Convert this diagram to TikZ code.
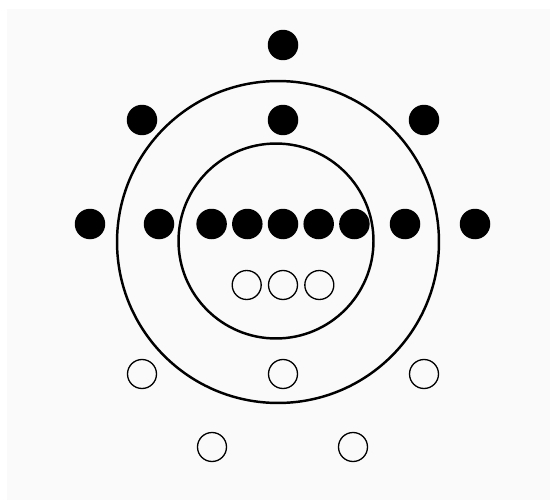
\documentclass[tikz,border=0pt]{standalone}
\usetikzlibrary{positioning}

\begin{document}
\begin{tikzpicture}[
    x=0.02cm, y=-0.02cm,
    member/.style={circle, fill=black, inner sep=0pt, minimum size=0.61cm},
    outsider/.style={circle, draw=black, line width=0.75pt, inner sep=0pt, minimum size=0.58cm},
    ring/.style={circle, draw=black, line width=1.4pt, inner sep=0pt}
]

% page
\useasboundingbox (0,0) rectangle (550,500);
\fill[white] (0,0) rectangle (550,500);
\fill[black!2] (7,9) rectangle (550,500);

% the two rings
\node[ring, minimum size=6.44cm] (outerring) at (278,242) {};
\node[ring, minimum size=3.9cm] (innerring) at (276,241) {};

% filled dots
\node[member] (top) at (283,45) {};
\node[member] (upleft) at (142,120) {};
\node[member] (upmid) at (283,120) {};
\node[member] (upright) at (424,120) {};

\node[member] (rowc) at (283,224) {};
\node[member, left=0.09cm of rowc] (rowl1) {};
\node[member, left=0.09cm of rowl1] (rowl2) {};
\node[member, right=0.09cm of rowc] (rowr1) {};
\node[member, right=0.09cm of rowr1] (rowr2) {};
\node[member] (rowl3) at (159,224) {};
\node[member] (rowl4) at (90,224) {};
\node[member] (rowr3) at (405,224) {};
\node[member] (rowr4) at (475,224) {};

% open circles
\node[outsider] (inc) at (283,285) {};
\node[outsider, left=0.12cm of inc] (inl) {};
\node[outsider, right=0.12cm of inc] (inr) {};

\node[outsider] (lowleft) at (142,374) {};
\node[outsider] (lowmid) at (283,374) {};
\node[outsider] (lowright) at (424,374) {};
\node[outsider] (baseleft) at (212,447) {};
\node[outsider] (baseright) at (353,447) {};

\end{tikzpicture}
\end{document}
